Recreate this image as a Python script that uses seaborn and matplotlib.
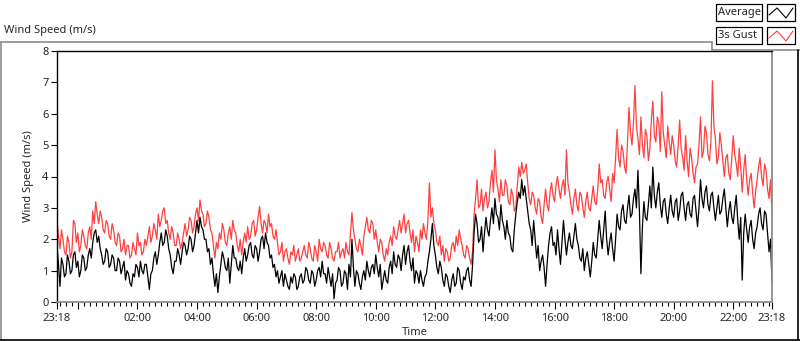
import numpy as np
import pandas as pd
import seaborn as sns
import matplotlib.pyplot as plt
from matplotlib.lines import Line2D
from matplotlib.patches import Rectangle
from matplotlib.ticker import FixedLocator

# Samples every 3 minutes, starting 23:18 and running for 24 h
minutes = np.arange(0, 1441, 3)

# 3s gust (m/s)
gust = [
    2.6, 2.1, 1.7, 2.3, 2.0, 1.6, 1.5, 2.1, 1.9, 1.4, 1.6, 2.6, 2.5, 1.9, 2.2, 1.6, 1.8, 2.3, 2.1, 1.8,
    1.7, 2.2, 2.4, 2.0, 2.9, 2.5, 3.2, 2.8, 2.5, 2.9, 2.7, 2.3, 2.2, 2.6, 2.5, 2.1, 2.0, 2.5, 2.3, 1.9,
    1.8, 2.2, 2.1, 1.6, 1.7, 2.0, 1.5, 1.8, 1.8, 1.4, 1.5, 1.9, 1.7, 1.5, 2.2, 1.8, 1.9, 1.5, 1.6, 2.0,
    1.8, 2.1, 2.4, 1.9, 2.1, 2.5, 2.3, 2.0, 2.8, 2.4, 2.6, 2.9, 3.0, 2.5, 2.6, 2.2, 2.0, 2.4, 2.2, 1.8,
    1.8, 2.2, 2.0, 1.7, 1.9, 2.2, 2.5, 2.1, 2.3, 2.7, 2.6, 2.2, 2.4, 2.8, 3.0, 2.6, 3.25, 2.9, 2.8, 2.4,
    2.5, 2.9, 2.7, 2.3, 2.2, 1.8, 1.4, 1.9, 1.7, 2.2, 2.0, 2.5, 2.3, 1.9, 1.8, 2.2, 2.4, 2.0, 2.6, 2.3,
    2.2, 1.8, 1.6, 2.0, 1.5, 1.9, 2.2, 1.9, 2.4, 2.0, 2.1, 2.5, 2.6, 2.1, 2.3, 2.7, 3.05, 2.5, 2.2, 2.6,
    2.5, 2.2, 2.8, 2.4, 2.5, 2.1, 2.0, 2.3, 1.9, 1.5, 1.6, 1.9, 1.3, 1.6, 1.7, 1.4, 1.2, 1.6, 1.5, 1.8,
    1.3, 1.5, 1.7, 1.3, 1.4, 1.6, 1.8, 1.5, 1.4, 1.9, 1.7, 1.4, 1.3, 1.8, 1.6, 1.3, 2.0, 1.7, 1.6, 1.9,
    1.8, 1.5, 1.4, 1.9, 1.7, 1.4, 1.3, 1.6, 1.6, 1.9, 1.4, 1.6, 1.7, 1.4, 1.9, 1.6, 1.5, 2.2, 2.85, 2.3,
    2.0, 1.7, 1.6, 2.0, 1.8, 1.5, 2.1, 2.4, 2.7, 2.3, 2.2, 2.6, 2.5, 2.0, 2.3, 1.9, 1.6, 2.0, 1.9, 1.5,
    1.3, 1.7, 1.5, 1.9, 2.1, 1.8, 2.4, 2.1, 2.0, 2.3, 2.6, 2.2, 2.5, 2.8, 2.2, 2.5, 2.6, 2.2, 1.9, 2.3,
    1.6, 2.1, 1.9, 1.6, 2.3, 2.0, 2.5, 2.2, 2.0, 2.6, 3.8, 2.7, 3.0, 2.5, 2.3, 1.9, 1.8, 2.1, 1.5, 1.8,
    1.3, 1.7, 1.6, 1.3, 1.4, 1.8, 1.9, 1.6, 2.1, 1.8, 2.3, 2.0, 1.8, 1.5, 1.4, 1.8, 1.7, 1.4, 1.2, 1.6,
    2.8, 3.3, 3.9, 3.0, 3.1, 3.6, 2.9, 3.3, 3.5, 3.0, 3.2, 3.8, 4.2, 3.5, 4.85, 3.9, 3.6, 3.2, 3.9, 3.4,
    3.4, 3.9, 3.7, 3.2, 3.1, 3.6, 3.4, 2.9, 3.0, 3.7, 4.3, 4.0, 4.45, 4.1, 4.2, 4.4, 3.8, 3.3, 3.1, 3.5,
    3.4, 3.0, 2.8, 3.3, 3.2, 2.7, 2.5, 3.1, 3.6, 3.1, 2.9, 3.5, 3.8, 3.4, 3.2, 3.7, 4.0, 3.6, 3.3, 3.7,
    3.9, 3.4, 4.85, 3.8, 3.5, 3.1, 2.8, 3.3, 3.6, 3.1, 2.9, 3.5, 3.4, 3.0, 2.7, 3.2, 3.5, 3.0, 2.9, 3.3,
    3.7, 3.2, 3.1, 3.6, 4.4, 3.8, 3.9, 3.4, 3.3, 3.8, 4.0, 3.6, 3.2, 4.1, 3.8, 4.6, 5.5, 4.6, 4.3, 5.0,
    4.8, 4.3, 4.1, 5.1, 6.2, 5.4, 5.0, 5.7, 6.9, 5.6, 5.2, 4.7, 5.9, 5.0, 4.6, 5.5, 5.3, 4.5, 4.9, 5.8,
    6.4, 5.3, 5.1, 5.9, 5.7, 4.8, 6.7, 5.4, 5.0, 4.6, 5.6, 5.1, 4.7, 5.3, 5.0, 4.5, 4.3, 5.0, 5.8, 4.9,
    4.6, 4.2, 5.3, 4.5, 4.0, 4.9, 4.6, 4.1, 3.8, 4.3, 4.4, 5.0, 5.9, 4.6, 4.8, 5.6, 5.4, 4.7, 4.5, 5.1,
    7.05, 5.6, 5.2, 4.4, 4.6, 5.4, 5.0, 4.5, 4.0, 4.6, 4.7, 4.1, 3.9, 4.6, 5.3, 4.7, 4.4, 4.0, 4.9, 4.3,
    3.5, 4.2, 4.7, 3.9, 3.4, 3.9, 4.1, 3.5, 3.0, 3.5, 3.9, 4.3, 4.6, 4.0, 3.7, 4.4, 4.2, 3.6, 3.3, 3.9, 2.8,
]

# Average wind speed (m/s)
average = [
    1.8, 1.2, 0.5, 1.4, 1.2, 0.8, 0.9, 1.5, 1.3, 0.9, 1.0, 1.5, 1.6, 1.1, 1.3, 0.8, 1.0, 1.5, 1.4, 1.0,
    1.1, 1.5, 1.7, 1.4, 1.9, 2.2, 2.3, 1.9, 2.1, 1.7, 1.5, 1.2, 1.3, 1.7, 1.6, 1.1, 1.2, 1.5, 1.4, 1.0,
    1.0, 1.4, 1.3, 0.9, 1.1, 1.3, 0.7, 1.0, 0.9, 0.6, 0.5, 0.9, 0.8, 1.2, 1.1, 0.8, 1.3, 1.0, 0.9, 1.2,
    1.2, 0.8, 0.4, 0.9, 1.0, 1.4, 1.6, 1.2, 1.5, 1.9, 2.2, 1.8, 1.9, 2.3, 2.1, 1.7, 1.5, 1.1, 0.9, 1.3,
    1.3, 1.7, 1.5, 1.2, 1.6, 1.9, 1.8, 1.5, 1.7, 2.1, 2.0, 1.6, 1.8, 2.2, 2.6, 2.2, 2.7, 2.4, 2.3, 2.0,
    2.0, 1.6, 1.7, 1.2, 1.4, 0.9, 0.5, 0.9, 0.3, 0.8, 1.2, 1.6, 1.4, 1.1, 1.0, 1.4, 0.6, 1.2, 1.8, 1.4,
    1.4, 1.1, 1.0, 1.3, 0.9, 1.4, 1.7, 1.3, 1.5, 1.8, 1.9, 1.5, 1.4, 1.8, 1.7, 1.3, 1.6, 2.0, 2.1, 1.7,
    2.2, 1.9, 1.8, 1.4, 1.5, 1.1, 1.2, 0.8, 1.0, 0.6, 0.8, 1.0, 0.5, 0.9, 0.7, 0.5, 0.4, 0.8, 0.6, 0.9,
    0.8, 0.4, 0.5, 0.8, 0.9, 0.6, 0.7, 1.1, 1.0, 0.7, 0.6, 1.0, 0.9, 0.5, 0.7, 1.0, 1.1, 0.8, 1.3, 0.9,
    0.9, 0.6, 1.1, 0.8, 0.5, 0.9, 0.1, 0.6, 0.7, 1.1, 1.0, 0.5, 0.6, 1.0, 0.9, 0.4, 1.2, 0.8, 2.0, 1.1,
    0.5, 1.0, 0.9, 0.6, 0.4, 0.8, 1.0, 0.7, 1.3, 1.0, 0.8, 1.1, 1.2, 0.9, 1.5, 1.1, 0.8, 1.2, 0.4, 0.7,
    1.0, 0.7, 0.6, 1.1, 1.3, 0.9, 1.6, 1.2, 1.1, 1.5, 1.4, 1.0, 1.5, 1.8, 1.2, 1.6, 1.8, 1.3, 1.0, 1.4,
    0.6, 1.0, 0.9, 0.6, 1.0, 0.7, 0.5, 0.8, 0.9, 1.3, 1.6, 2.0, 2.5, 1.8, 1.5, 1.1, 0.9, 1.3, 1.1, 0.7,
    0.5, 0.9, 0.8, 0.5, 0.3, 0.7, 0.9, 0.5, 0.6, 1.1, 1.0, 0.6, 0.4, 0.8, 0.7, 1.0, 1.1, 0.7, 0.5, 1.2,
    2.2, 2.8, 2.5, 1.9, 2.0, 2.4, 1.6, 2.2, 2.7, 2.3, 2.1, 2.6, 3.0, 2.5, 3.3, 2.8, 2.7, 2.3, 3.1, 2.6,
    2.4, 2.0, 2.6, 2.2, 2.1, 1.7, 1.6, 2.3, 2.8, 3.2, 3.5, 3.3, 3.9, 3.4, 3.7, 3.3, 2.9, 2.5, 2.3, 1.8,
    2.6, 2.0, 1.4, 1.8, 1.0, 1.3, 1.5, 1.1, 0.5, 1.2, 1.8, 2.2, 2.4, 1.8, 1.9, 1.5, 2.3, 1.7, 1.2, 1.9,
    2.6, 2.0, 1.5, 1.9, 2.2, 1.8, 1.7, 2.1, 2.5, 2.0, 1.8, 1.4, 1.3, 1.7, 1.0, 1.4, 1.6, 1.2, 0.8, 1.3,
    1.9, 1.5, 1.4, 2.0, 2.6, 2.1, 1.7, 2.3, 2.9, 2.0, 1.5, 1.9, 2.2, 1.7, 1.3, 2.0, 2.8, 2.4, 2.3, 2.9,
    3.1, 2.6, 2.5, 3.0, 3.4, 2.7, 2.8, 3.3, 3.6, 3.0, 4.2, 2.9, 0.9, 2.4, 3.2, 2.7, 2.6, 3.1, 3.7, 3.0,
    4.3, 3.4, 3.0, 3.5, 3.8, 3.1, 2.7, 3.2, 3.3, 2.8, 2.5, 3.0, 3.4, 2.9, 2.7, 3.2, 3.3, 2.6, 2.9, 3.4,
    3.5, 3.0, 2.6, 3.1, 3.2, 2.8, 2.7, 3.3, 3.4, 2.9, 2.4, 3.0, 3.9, 3.3, 3.0, 3.5, 3.7, 3.1, 2.9, 3.4,
    3.5, 3.0, 2.6, 3.0, 3.4, 2.8, 2.9, 3.3, 3.6, 3.0, 2.4, 2.9, 3.2, 2.7, 2.5, 3.0, 3.4, 2.6, 2.0, 2.7,
    0.7, 2.2, 2.8, 2.3, 1.9, 2.4, 2.6, 2.0, 1.7, 2.2, 2.4, 2.8, 3.0, 2.5, 2.3, 2.9, 2.8, 2.2, 1.6, 2.0, 0.6,
]

# x axis: minutes after 23:18
tick_pos = [0, 42, 162, 282, 402, 522, 642, 762, 882, 1002, 1122, 1242, 1362, 1440]
tick_labels = ['23:18', '', '02:00', '04:00', '06:00', '08:00', '10:00', '12:00',
               '14:00', '16:00', '18:00', '20:00', '22:00', '23:18']
minor_pos = [m for m in range(6, 1440, 12)]

W, H = 800, 342
GUST_RED = '#ff4040'
GRAY = '#8c8c8c'

sns.set_style('white')
plt.rcParams['font.family'] = ['Noto Sans', 'DejaVu Sans']

df = pd.concat([
    pd.DataFrame({'minute': minutes, 'speed': gust, 'series': '3s Gust'}),
    pd.DataFrame({'minute': minutes, 'speed': average, 'series': 'Average'}),
])

fig = plt.figure(figsize=(W / 100, H / 100), dpi=100)
fig.patch.set_facecolor('white')


def fx(x):
    return x / W


def fy(y):
    return 1 - y / H


ax = fig.add_axes([fx(57), fy(302), fx(772) - fx(57), fy(51) - fy(302)])
sns.lineplot(data=df, x='minute', y='speed', hue='series',
             hue_order=['3s Gust', 'Average'],
             palette={'3s Gust': GUST_RED, 'Average': 'black'},
             linewidth=0.9, legend=False, ax=ax, estimator=None)

ax.set_xlim(0, 1440)
ax.set_ylim(0, 8)
ax.set_yticks(range(0, 9))
ax.xaxis.set_major_locator(FixedLocator(tick_pos))
ax.set_xticklabels(tick_labels)
ax.xaxis.set_minor_locator(FixedLocator(minor_pos))

for side in ['left', 'top']:
    ax.spines[side].set_color('black')
    ax.spines[side].set_linewidth(1)
for side in ['right', 'bottom']:
    ax.spines[side].set_color(GRAY)
    ax.spines[side].set_linewidth(1.3)

ax.tick_params(axis='y', which='major', length=4, width=0.8, color='black',
               direction='out', pad=2, labelsize=8, left=True)
ax.tick_params(axis='x', which='major', length=5, width=0.8, color='black',
               direction='out', pad=3, labelsize=8, bottom=True)
ax.tick_params(axis='x', which='minor', length=3, width=0.8, color='black',
               direction='out', bottom=True)

ax.set_xlabel('Time', fontsize=8, labelpad=2)
ax.set_ylabel('Wind Speed (m/s)', fontsize=8, labelpad=6)
ax.grid(False)

# chart title in the frame corner
fig.text(fx(4), fy(31), 'Wind Speed (m/s)', fontsize=8, va='center', ha='left')

# outer frame (LabVIEW style)
frame = [
    ([1, 1], [42, 340], GRAY),
    ([0, 712], [42, 42], GRAY),
    ([712, 712], [42, 50], GRAY),
    ([712, 800], [50, 50], GRAY),
    ([0, 800], [340, 340], 'black'),
    ([798, 798], [50, 340], 'black'),
]
for xs, ys, c in frame:
    fig.add_artist(Line2D([fx(v) for v in xs], [fy(v) for v in ys],
                          color=c, linewidth=1.2, transform=fig.transFigure))

# legend boxes
legend_rows = [('Average', 'black', 4), ('3s Gust', GUST_RED, 27)]
for name, color, top in legend_rows:
    for x0, x1 in [(716, 762), (767, 795)]:
        fig.add_artist(Rectangle((fx(x0), fy(top + 17)), fx(x1) - fx(x0), fy(top) - fy(top + 17),
                                 facecolor='white', edgecolor='black', linewidth=0.9,
                                 transform=fig.transFigure))
    fig.text(fx(718), fy(top + 8.5), name, fontsize=8, va='center', ha='left')
    zx = [769, 777, 786, 793]
    zy = [top + 11, top + 4, top + 14, top + 4]
    fig.add_artist(Line2D([fx(v) for v in zx], [fy(v) for v in zy],
                          color=color, linewidth=0.8, transform=fig.transFigure))

fig.savefig('out.png', dpi=100, facecolor='white')
